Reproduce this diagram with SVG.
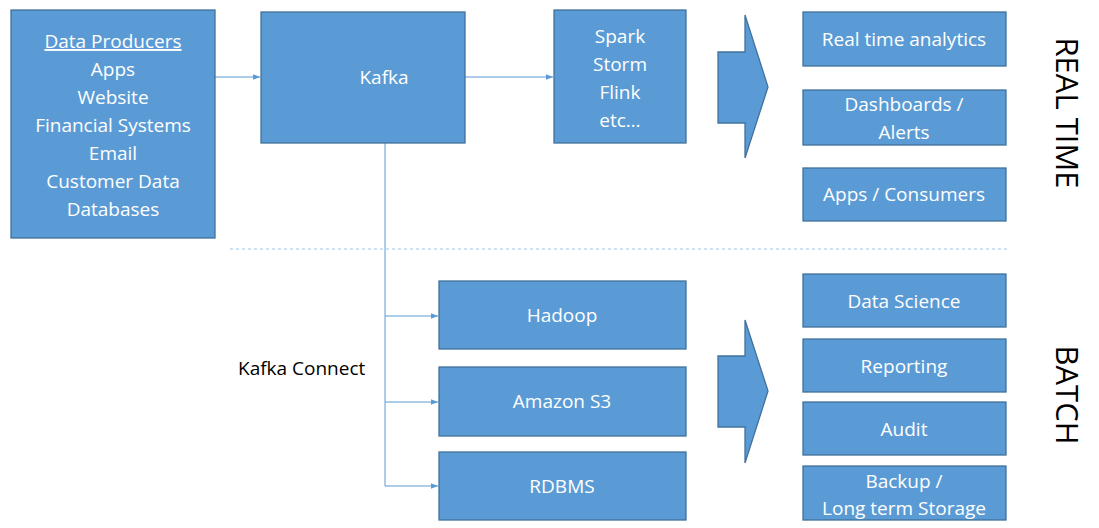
<svg xmlns="http://www.w3.org/2000/svg" width="1099" height="528" viewBox="0 0 1099 528">
<defs>
<style>
.b{fill:#5b9bd5;stroke:#41719c;stroke-width:1.3}
.t{font-family:"Open Sans","Liberation Sans",sans-serif;font-size:19px;fill:#fff;text-anchor:middle}
.k{font-family:"Open Sans","Liberation Sans",sans-serif;font-size:19px;fill:#000}
.c{fill:none;stroke:#5b9bd5;stroke-width:1}
.side{font-family:"Open Sans","Liberation Sans",sans-serif;font-size:31px;fill:#000;text-anchor:middle}
</style>
<marker id="a" viewBox="0 0 10 10" refX="10" refY="5" markerWidth="7" markerHeight="7" orient="auto"><path d="M0,1 L10,5 L0,9 z" fill="#5b9bd5"/></marker>
</defs>
<rect width="1099" height="528" fill="#fff"/>
<g id="connectors">
<path class="c" d="M215,77 H260" marker-end="url(#a)"/>
<path class="c" d="M465,77 H553" marker-end="url(#a)"/>
<path class="c" d="M385,143 V486"/>
<path class="c" d="M385,316 H438" marker-end="url(#a)"/>
<path class="c" d="M385,402 H438" marker-end="url(#a)"/>
<path class="c" d="M385,486 H438" marker-end="url(#a)"/>
<line x1="230" y1="249" x2="1010" y2="249" stroke="#9dc3e6" stroke-width="1.2" stroke-dasharray="3,3"/>
</g>
<g id="producers"><rect class="b" x="11" y="10" width="204" height="228"/>
<text class="t" x="113" y="48" text-decoration="underline">Data Producers</text>
<text class="t" x="113" y="76">Apps</text><text class="t" x="113" y="104">Website</text><text class="t" x="113" y="132">Financial Systems</text><text class="t" x="113" y="160">Email</text><text class="t" x="113" y="188">Customer Data</text><text class="t" x="113" y="216">Databases</text></g>
<g id="kafka"><rect class="b" x="261" y="12" width="204" height="131"/><text class="t" x="384" y="84">Kafka</text></g>
<g id="spark"><rect class="b" x="554" y="10" width="132" height="133"/>
<text class="t" x="620" y="43">Spark</text><text class="t" x="620" y="71">Storm</text><text class="t" x="620" y="99">Flink</text><text class="t" x="620" y="127">etc…</text></g>
<g id="arrow1"><path class="b" d="M718,52 H745 V15 L768,87 L745,158 V123 H718 Z"/></g>
<g id="rt1"><rect class="b" x="803" y="12" width="203" height="54"/><text class="t" x="904" y="46">Real time analytics</text></g>
<g id="rt2"><rect class="b" x="803" y="90" width="203" height="55"/><text class="t" x="904" y="111">Dashboards /</text><text class="t" x="904" y="139">Alerts</text></g>
<g id="rt3"><rect class="b" x="803" y="168" width="203" height="53"/><text class="t" x="904" y="201">Apps / Consumers</text></g>
<text class="side" transform="translate(1056,113) rotate(90)">REAL TIME</text>
<g id="hadoop"><rect class="b" x="439" y="281" width="247" height="68"/><text class="t" x="562" y="322">Hadoop</text></g>
<g id="s3"><rect class="b" x="439" y="367" width="247" height="69"/><text class="t" x="562" y="408">Amazon S3</text></g>
<g id="rdbms"><rect class="b" x="439" y="452" width="247" height="68"/><text class="t" x="562" y="493">RDBMS</text></g>
<text class="k" x="238" y="375">Kafka Connect</text>
<g id="arrow2"><path class="b" d="M718,356 H745 V320 L768,391 L745,463 V427 H718 Z"/></g>
<g id="b1"><rect class="b" x="803" y="274" width="203" height="53"/><text class="t" x="904" y="308">Data Science</text></g>
<g id="b2"><rect class="b" x="803" y="339" width="203" height="53"/><text class="t" x="904" y="373">Reporting</text></g>
<g id="b3"><rect class="b" x="803" y="402" width="203" height="53"/><text class="t" x="904" y="436">Audit</text></g>
<g id="b4"><rect class="b" x="803" y="466" width="203" height="54"/><text class="t" x="904" y="488">Backup /</text><text class="t" x="904" y="515">Long term Storage</text></g>
<text class="side" transform="translate(1056,395) rotate(90)">BATCH</text>
</svg>
